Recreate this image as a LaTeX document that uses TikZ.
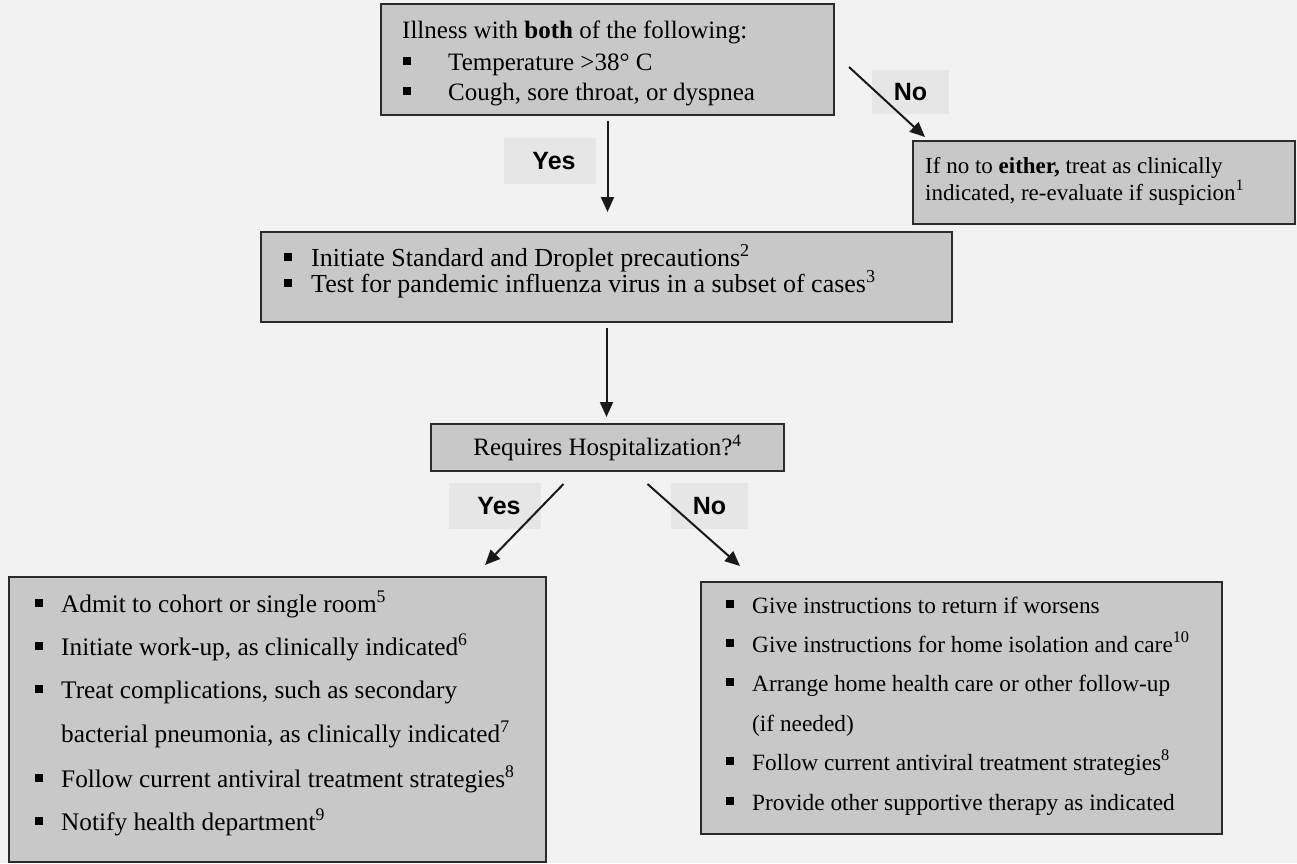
\documentclass[tikz,border=0pt]{standalone}
\usepackage{fontspec}
\setmainfont{Liberation Serif}
\newfontfamily\labelfont{Liberation Sans}
\usetikzlibrary{arrows.meta}

\definecolor{bg}{HTML}{F2F2F2}
\definecolor{boxfill}{HTML}{C8C8C8}
\definecolor{tagfill}{HTML}{E6E6E6}
\definecolor{edge}{HTML}{2B2B2B}

% square bullet followed by a fixed indent
\newcommand{\sqitem}[1]{\makebox[#1][l]{\rule[5pt]{8pt}{8pt}}}

\begin{document}
\begin{tikzpicture}[x=1pt,y=-1pt,
  box/.style={draw=edge, line width=2pt, fill=boxfill, inner sep=0pt},
  tag/.style={fill=tagfill, inner sep=0pt, font=\labelfont\bfseries\fontsize{25}{30}\selectfont},
  txt/.style={anchor=base west, inner sep=0pt, text=black},
  fA/.style={font=\fontsize{25}{30}\selectfont},
  fB/.style={font=\fontsize{23}{27}\selectfont},
  fC/.style={font=\fontsize{26}{30}\selectfont},
  fE/.style={font=\fontsize{25.3}{30}\selectfont},
  fD/.style={font=\fontsize{23.3}{28}\selectfont},
  arr/.style={draw=black!90, line width=2pt, -{Triangle[length=15pt,width=13pt]}},
]
% canvas
\path[fill=bg] (0,0) rectangle (1297,863);
\useasboundingbox (0,0) rectangle (1297,863);

% boxes
\node[box, minimum width=453pt, minimum height=111pt] (top) at (607.5,59.5) {};
\node[box, minimum width=382pt, minimum height=83pt] (nobox) at (1104,182.5) {};
\node[box, minimum width=691pt, minimum height=90pt] (prec) at (606.5,277) {};
\node[box, minimum width=353pt, minimum height=47pt, fA] (req) at (607.5,447.5) {Requires Hospitalization?\textsuperscript{4}};
\node[box, minimum width=537pt, minimum height=285pt] (adm) at (277.5,719.5) {};
\node[box, minimum width=521pt, minimum height=252pt] (home) at (961.5,708) {};

% top box text
\node[txt, fA] (top1) at (402,38) {Illness with \textbf{both} of the following:};
\node[txt, fA] (top2) at (403,70) {\sqitem{45pt}Temperature >38° C};
\node[txt, fA] (top3) at (403,100) {\sqitem{45pt}Cough, sore throat, or dyspnea};

% negative branch text
\node[txt, fB] (no1) at (925,173) {If no to \textbf{either,} treat as clinically};
\node[txt, fB] (no2) at (925,200) {indicated, re-evaluate if suspicion\textsuperscript{1}};

% precautions text
\node[txt, fC] (pr1) at (284,266) {\sqitem{27pt}Initiate Standard and Droplet precautions\textsuperscript{2}};
\node[txt, fC] (pr2) at (284,292) {\sqitem{27pt}Test for pandemic influenza virus in a subset of cases\textsuperscript{3}};

% hospitalised patients
\node[txt, fE] (ad1) at (35,612) {\sqitem{26pt}Admit to cohort or single room\textsuperscript{5}};
\node[txt, fE] (ad2) at (35,655) {\sqitem{26pt}Initiate work-up, as clinically indicated\textsuperscript{6}};
\node[txt, fE] (ad3) at (35,698) {\sqitem{26pt}Treat complications, such as secondary};
\node[txt, fE] (ad4) at (61,742) {bacterial pneumonia, as clinically indicated\textsuperscript{7}};
\node[txt, fE] (ad5) at (35,787) {\sqitem{26pt}Follow current antiviral treatment strategies\textsuperscript{8}};
\node[txt, fE] (ad6) at (35,830) {\sqitem{26pt}Notify health department\textsuperscript{9}};

% patients cared for at home
\node[txt, fD] (hm1) at (726,613) {\sqitem{26pt}Give instructions to return if worsens};
\node[txt, fD] (hm2) at (726,652) {\sqitem{26pt}Give instructions for home isolation and care\textsuperscript{10}};
\node[txt, fD] (hm3) at (726,691) {\sqitem{26pt}Arrange home health care or other follow-up};
\node[txt, fD] (hm4) at (752,731) {(if needed)};
\node[txt, fD] (hm5) at (726,770) {\sqitem{26pt}Follow current antiviral treatment strategies\textsuperscript{8}};
\node[txt, fD] (hm6) at (726,810) {\sqitem{26pt}Provide other supportive therapy as indicated};

% branch labels
\node[tag, minimum width=92pt, minimum height=46pt] (yes1) at (550,161) {\hspace*{8pt}Yes};
\node[tag, minimum width=77pt, minimum height=44pt] (noA) at (910.5,92) {No};
\node[tag, minimum width=92pt, minimum height=46pt] (yes2) at (495,506) {\hspace*{8pt}Yes};
\node[tag, minimum width=77pt, minimum height=46pt] (noB) at (709.5,506) {No};

% connectors
\draw[arr, shorten <=5pt, shorten >=19pt] (top.south) -- (top.south |- prec.north);
\draw[arr, shorten <=5pt, shorten >=6pt] (prec.south) -- (prec.south |- req.north);
\draw[arr] ([shift={(14,64)}]top.north east) -- ([shift={(13,-3)}]nobox.north west);
\draw[arr] ([shift={(-44,12)}]req.south) -- ([shift={(207.5,-11)}]adm.north);
\draw[arr] ([shift={(40,12)}]req.south) -- ([shift={(-221.5,-15)}]home.north);
\end{tikzpicture}
\end{document}
